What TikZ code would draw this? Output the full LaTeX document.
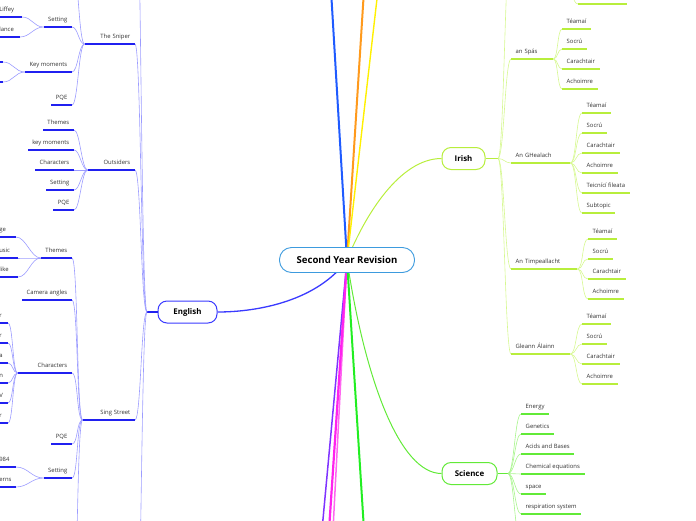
\documentclass[tikz,border=0pt]{standalone}
\usepackage{fontspec}
\setmainfont{Open Sans}
\usetikzlibrary{positioning, backgrounds}

\definecolor{rootblue}{HTML}{3D9BDE}
\definecolor{engblue}{HTML}{3A3AFF}
\definecolor{engdark}{HTML}{2020F0}
\definecolor{englight}{HTML}{9C9CFF}
\definecolor{irlime}{HTML}{B8EE3C}
\definecolor{irlight}{HTML}{D6F890}
\definecolor{scigreen}{HTML}{62EA38}
\definecolor{scilight}{HTML}{A8F58C}
\definecolor{txtgray}{HTML}{333333}
\definecolor{upblue}{HTML}{1F5BFF}
\definecolor{uporange}{HTML}{FF9A1C}
\definecolor{upyellow}{HTML}{FFF000}
\definecolor{downgreen}{HTML}{22EE22}
\definecolor{downpurple}{HTML}{7F33FF}
\definecolor{downmagenta}{HTML}{FF22EE}
\definecolor{downpink}{HTML}{FF66F0}

\tikzset{
  central/.style={draw=rootblue, fill=white, line width=0.9pt, rounded corners=12pt,
    minimum width=135pt, minimum height=25pt, font=\fontsize{9.6}{11}\selectfont\bfseries},
  maintopic/.style={draw=#1, fill=white, line width=1pt, rounded corners=9pt,
    minimum height=22pt, font=\fontsize{7.9}{9}\selectfont\bfseries},
  leaf/.style={minimum height=14pt, inner xsep=4.5pt, inner ysep=0pt, text height=4.3pt,
    text depth=1.2pt, font=\fontsize{5.9}{7}\selectfont, text=txtgray},
  lleaf/.style={leaf, anchor=south east},
  rleaf/.style={leaf, anchor=south west},
  lwide/.style={text width=#1, align=right},
  rwide/.style={text width=#1, align=left},
  cutleaf/.style={lleaf, text width=#1, align=left},
  fanl/.style={out=180, in=0, out distance=#1, in distance=#1},
  fanl/.default=6pt,
  fanr/.style={out=0, in=180, out distance=#1, in distance=#1},
  fanr/.default=6pt,
  engfan/.style={draw=englight, line width=0.6pt},
  engline/.style={draw=engdark, line width=1.4pt},
  irfan/.style={draw=irlight, line width=0.6pt},
  irline/.style={draw=irlime, line width=1.4pt},
  scifan/.style={draw=scilight, line width=0.6pt},
  sciline/.style={draw=scigreen, line width=1.4pt},
}

\begin{document}
\begin{tikzpicture}[x=1pt, y=-1pt]
  \useasboundingbox (0,0) rectangle (696,520);
  \clip (0,0) rectangle (696,520);

  % central topic and main topics
  \node[central] (root) at (347,260) {Second Year Revision};
  \node[maintopic=engblue, minimum width=59pt] (english) at (187.5,312) {English};
  \node[maintopic=irlime, minimum width=43pt] (irish) at (463.5,158.5) {Irish};
  \node[maintopic=scigreen, minimum width=55pt] (science) at (469.5,473.5) {Science};

  % ends of branches that leave the picture
  \coordinate (bluetop) at (331,-10);
  \coordinate (orangetop) at (364,-10);
  \coordinate (yellowtop) at (378,-10);
  \coordinate (greenbot) at (364,530);
  \coordinate (purplebot) at (322,530);
  \coordinate (magentabot) at (329,530);
  \coordinate (pinkbot) at (333,530);

  \begin{scope}[on background layer]
    \draw[upblue, line width=2pt] (root.center) -- (bluetop);
    \draw[uporange, line width=2pt] (root.center) -- (orangetop);
    \draw[upyellow, line width=1.4pt] (root.center) -- (yellowtop);
    \draw[downpurple, line width=1.5pt] (root.center) -- (purplebot);
    \draw[downpink, line width=1.5pt] (root.center) -- (pinkbot);
    \draw[downmagenta, line width=2.2pt] (root.center) -- (magentabot);
    \draw[downgreen, line width=2pt] (root.center) -- (greenbot);
    \draw[engblue, line width=1.3pt] (root.center) .. controls (318,300) and (260,312) .. (english.east);
    \draw[irlime, line width=1pt] (root.center) .. controls (365,215) and (400,158.5) .. (irish.west);
    \draw[scigreen, line width=1pt] (root.center) .. controls (365,380) and (400,473.5) .. (science.west);
  \end{scope}

  % English
  \coordinate (engjoin) at (147,312);
  \coordinate (engup) at (135,-150);
  \coordinate (engdown) at (135,700);
  \node[lleaf, lwide=41pt] (sniper) at (135,44) {The Sniper};
  \node[lleaf, lwide=38pt] (outsiders) at (135,170) {Outsiders};
  \node[lleaf, lwide=43pt] (sing) at (135,420) {Sing Street};

  % The Sniper
  \coordinate (snup) at (72,-40);
  \node[lleaf] (snset) at (72,27) {Setting};
  \node[cutleaf=18pt] (liffey) at (22,17) {Liffey};
  \node[cutleaf=16pt] (lance) at (20,37) {lance};
  \node[lleaf] (snkey) at (72,72) {Key moments};
  \node[lleaf, minimum width=30pt] (snkeya) at (3,62) {};
  \node[lleaf, minimum width=30pt] (snkeyb) at (3,82) {};
  \node[lleaf] (snpqe) at (72,105) {PQE};

  % Outsiders
  \node[lleaf] (outthemes) at (74,130) {Themes};
  \node[lleaf] (outkey) at (74,150) {key moments};
  \node[lleaf] (outchar) at (74,170) {Characters};
  \node[lleaf] (outset) at (74,190) {Setting};
  \node[lleaf] (outpqe) at (74,210) {PQE};

  % Sing Street
  \coordinate (ssdown) at (72,620);
  \node[lleaf] (ssthemes) at (72,258) {Themes};
  \node[cutleaf=12pt] (ssge) at (16,237) {ge};
  \node[cutleaf=14pt] (ssusic) at (18,258) {usic};
  \node[cutleaf=14pt] (sslike) at (18,277) {like};
  \node[lleaf] (sscam) at (72,300) {Camera angles};
  \node[lleaf, lwide=45pt] (sschar) at (72,373) {Characters};
  \node[cutleaf=4pt] (sschara) at (8,323) {r};
  \node[cutleaf=4pt] (sscharb) at (8,343) {r};
  \node[cutleaf=4pt] (sscharc) at (8,363) {a};
  \node[cutleaf=4pt] (sschard) at (8,383) {n};
  \node[cutleaf=4pt] (sschare) at (8,403) {V};
  \node[cutleaf=4pt] (sscharf) at (8,423) {r};
  \node[lleaf] (sspqe) at (72,444) {PQE};
  \node[lleaf] (ssset) at (72,478) {Setting};
  \node[cutleaf=12pt] (ssnine) at (16,467) {984};
  \node[cutleaf=12pt] (sserns) at (16,487) {erns};

  \draw[engline] (english.west) -- (engjoin);
  \draw[engfan] (engjoin) to[fanl] (engup);
  \draw[engfan] (engjoin) to[fanl] (engdown);
  \draw[engfan] (engjoin) to[fanl] (sniper.south east) edge[engline] (sniper.south west);
  \draw[engfan] (engjoin) to[fanl] (outsiders.south east) edge[engline] (outsiders.south west);
  \draw[engfan] (engjoin) to[fanl] (sing.south east) edge[engline] (sing.south west);

  \draw[engfan] (sniper.south west) to[fanl] (snup);
  \draw[engfan] (sniper.south west) to[fanl] (snset.south east) edge[engline] (snset.south west);
  \draw[engfan] (sniper.south west) to[fanl] (snkey.south east) edge[engline] (snkey.south west);
  \draw[engfan] (sniper.south west) to[fanl] (snpqe.south east) edge[engline] (snpqe.south west);
  \draw[engfan] (snset.south west) to[fanl=10pt] (liffey.south east) edge[engline] (liffey.south west);
  \draw[engfan] (snset.south west) to[fanl=10pt] (lance.south east) edge[engline] (lance.south west);
  \draw[engfan] (snkey.south west) to[fanl=10pt] (snkeya.south east) edge[engline] (snkeya.south west);
  \draw[engfan] (snkey.south west) to[fanl=10pt] (snkeyb.south east) edge[engline] (snkeyb.south west);

  \draw[engfan] (outsiders.south west) to[fanl] (outthemes.south east) edge[engline] (outthemes.south west);
  \draw[engfan] (outsiders.south west) to[fanl] (outkey.south east) edge[engline] (outkey.south west);
  \draw[engfan] (outsiders.south west) to[fanl] (outchar.south east) edge[engline] (outchar.south west);
  \draw[engfan] (outsiders.south west) to[fanl] (outset.south east) edge[engline] (outset.south west);
  \draw[engfan] (outsiders.south west) to[fanl] (outpqe.south east) edge[engline] (outpqe.south west);

  \draw[engfan] (sing.south west) to[fanl] (ssthemes.south east) edge[engline] (ssthemes.south west);
  \draw[engfan] (sing.south west) to[fanl] (sscam.south east) edge[engline] (sscam.south west);
  \draw[engfan] (sing.south west) to[fanl] (sschar.south east) edge[engline] (sschar.south west);
  \draw[engfan] (sing.south west) to[fanl] (sspqe.south east) edge[engline] (sspqe.south west);
  \draw[engfan] (sing.south west) to[fanl] (ssset.south east) edge[engline] (ssset.south west);
  \draw[engfan] (sing.south west) to[fanl] (ssdown);
  \draw[engfan] (ssthemes.south west) to[fanl=10pt] (ssge.south east) edge[engline] (ssge.south west);
  \draw[engfan] (ssthemes.south west) to[fanl=10pt] (ssusic.south east) edge[engline] (ssusic.south west);
  \draw[engfan] (ssthemes.south west) to[fanl=10pt] (sslike.south east) edge[engline] (sslike.south west);
  \draw[engfan] (sschar.south west) to[fanl=5pt] (sschara.south east) edge[engline] (sschara.south west);
  \draw[engfan] (sschar.south west) to[fanl=5pt] (sscharb.south east) edge[engline] (sscharb.south west);
  \draw[engfan] (sschar.south west) to[fanl=5pt] (sscharc.south east) edge[engline] (sscharc.south west);
  \draw[engfan] (sschar.south west) to[fanl=5pt] (sschard.south east) edge[engline] (sschard.south west);
  \draw[engfan] (sschar.south west) to[fanl=5pt] (sschare.south east) edge[engline] (sschare.south west);
  \draw[engfan] (sschar.south west) to[fanl=5pt] (sscharf.south east) edge[engline] (sscharf.south west);
  \draw[engfan] (ssset.south west) to[fanl=12pt] (ssnine.south east) edge[engline] (ssnine.south west);
  \draw[engfan] (ssset.south west) to[fanl=12pt] (sserns.south east) edge[engline] (sserns.south west);

  % Irish
  \coordinate (irjoin) at (498,158.5);
  \coordinate (irup) at (511,-60);
  \coordinate (irtopjoin) at (566,-16);
  \node[rleaf, minimum width=49pt] (irtop) at (578,4) {};
  \node[rleaf, rwide=33pt] (spas) at (511,59) {an Spás};
  \node[rleaf] (spasa) at (562,29) {Téamaí};
  \node[rleaf] (spasb) at (562,49) {Socrú};
  \node[rleaf] (spasc) at (562,69) {Carachtair};
  \node[rleaf] (spasd) at (562,89) {Achoimre};
  \node[rleaf, rwide=50pt] (bealach) at (511,163) {An GHealach};
  \node[rleaf] (bealacha) at (582,113) {Téamaí};
  \node[rleaf] (bealachb) at (582,133) {Socrú};
  \node[rleaf] (bealachc) at (582,153) {Carachtair};
  \node[rleaf] (bealachd) at (582,173) {Achoimre};
  \node[rleaf] (bealache) at (582,193) {Teicnící fileata};
  \node[rleaf] (bealachf) at (582,213) {Subtopic};
  \node[rleaf, rwide=57pt] (timp) at (511,269) {An Timpeallacht};
  \node[rleaf] (timpa) at (588,239) {Téamaí};
  \node[rleaf] (timpb) at (588,259) {Socrú};
  \node[rleaf] (timpc) at (588,279) {Carachtair};
  \node[rleaf] (timpd) at (588,299) {Achoimre};
  \node[rleaf, rwide=50pt] (gleann) at (511,354) {Gleann Álainn};
  \node[rleaf] (gleanna) at (582,324) {Téamaí};
  \node[rleaf] (gleannb) at (582,344) {Socrú};
  \node[rleaf] (gleannc) at (582,364) {Carachtair};
  \node[rleaf] (gleannd) at (582,384) {Achoimre};

  \draw[irline] (irish.east) -- (irjoin);
  \draw[irfan] (irjoin) to[fanr] (irup);
  \draw[irfan] (irtopjoin) to[fanr] (irtop.south west) edge[irline] (irtop.south east);
  \draw[irfan] (irjoin) to[fanr] (spas.south west) edge[irline] (spas.south east);
  \draw[irfan] (irjoin) to[fanr] (bealach.south west) edge[irline] (bealach.south east);
  \draw[irfan] (irjoin) to[fanr] (timp.south west) edge[irline] (timp.south east);
  \draw[irfan] (irjoin) to[fanr] (gleann.south west) edge[irline] (gleann.south east);
  \draw[irfan] (spas.south east) to[fanr=4.5pt] (spasa.south west) edge[irline] (spasa.south east);
  \draw[irfan] (spas.south east) to[fanr=4.5pt] (spasb.south west) edge[irline] (spasb.south east);
  \draw[irfan] (spas.south east) to[fanr=4.5pt] (spasc.south west) edge[irline] (spasc.south east);
  \draw[irfan] (spas.south east) to[fanr=4.5pt] (spasd.south west) edge[irline] (spasd.south east);
  \draw[irfan] (bealach.south east) to[fanr] (bealacha.south west) edge[irline] (bealacha.south east);
  \draw[irfan] (bealach.south east) to[fanr] (bealachb.south west) edge[irline] (bealachb.south east);
  \draw[irfan] (bealach.south east) to[fanr] (bealachc.south west) edge[irline] (bealachc.south east);
  \draw[irfan] (bealach.south east) to[fanr] (bealachd.south west) edge[irline] (bealachd.south east);
  \draw[irfan] (bealach.south east) to[fanr] (bealache.south west) edge[irline] (bealache.south east);
  \draw[irfan] (bealach.south east) to[fanr] (bealachf.south west) edge[irline] (bealachf.south east);
  \draw[irfan] (timp.south east) to[fanr] (timpa.south west) edge[irline] (timpa.south east);
  \draw[irfan] (timp.south east) to[fanr] (timpb.south west) edge[irline] (timpb.south east);
  \draw[irfan] (timp.south east) to[fanr] (timpc.south west) edge[irline] (timpc.south east);
  \draw[irfan] (timp.south east) to[fanr] (timpd.south west) edge[irline] (timpd.south east);
  \draw[irfan] (gleann.south east) to[fanr] (gleanna.south west) edge[irline] (gleanna.south east);
  \draw[irfan] (gleann.south east) to[fanr] (gleannb.south west) edge[irline] (gleannb.south east);
  \draw[irfan] (gleann.south east) to[fanr] (gleannc.south west) edge[irline] (gleannc.south east);
  \draw[irfan] (gleann.south east) to[fanr] (gleannd.south west) edge[irline] (gleannd.south east);

  % Science
  \coordinate (scijoin) at (508,473.5);
  \coordinate (scidown) at (521,543);
  \node[rleaf] (energy) at (521,414) {Energy};
  \node[rleaf] (genetics) at (521,434) {Genetics};
  \node[rleaf] (acids) at (521,454) {Acids and Bases};
  \node[rleaf] (chemeq) at (521,474) {Chemical equations};
  \node[rleaf] (space) at (521,494) {space};
  \node[rleaf] (resp) at (521,514) {respiration system};

  \draw[sciline] (science.east) -- (scijoin);
  \draw[scifan] (scijoin) to[fanr] (energy.south west) edge[sciline] (energy.south east);
  \draw[scifan] (scijoin) to[fanr] (genetics.south west) edge[sciline] (genetics.south east);
  \draw[scifan] (scijoin) to[fanr] (acids.south west) edge[sciline] (acids.south east);
  \draw[scifan] (scijoin) to[fanr] (chemeq.south west) edge[sciline] (chemeq.south east);
  \draw[scifan] (scijoin) to[fanr] (space.south west) edge[sciline] (space.south east);
  \draw[scifan] (scijoin) to[fanr] (resp.south west) edge[sciline] (resp.south east);
  \draw[scifan] (scijoin) to[fanr] (scidown);
\end{tikzpicture}
\end{document}
